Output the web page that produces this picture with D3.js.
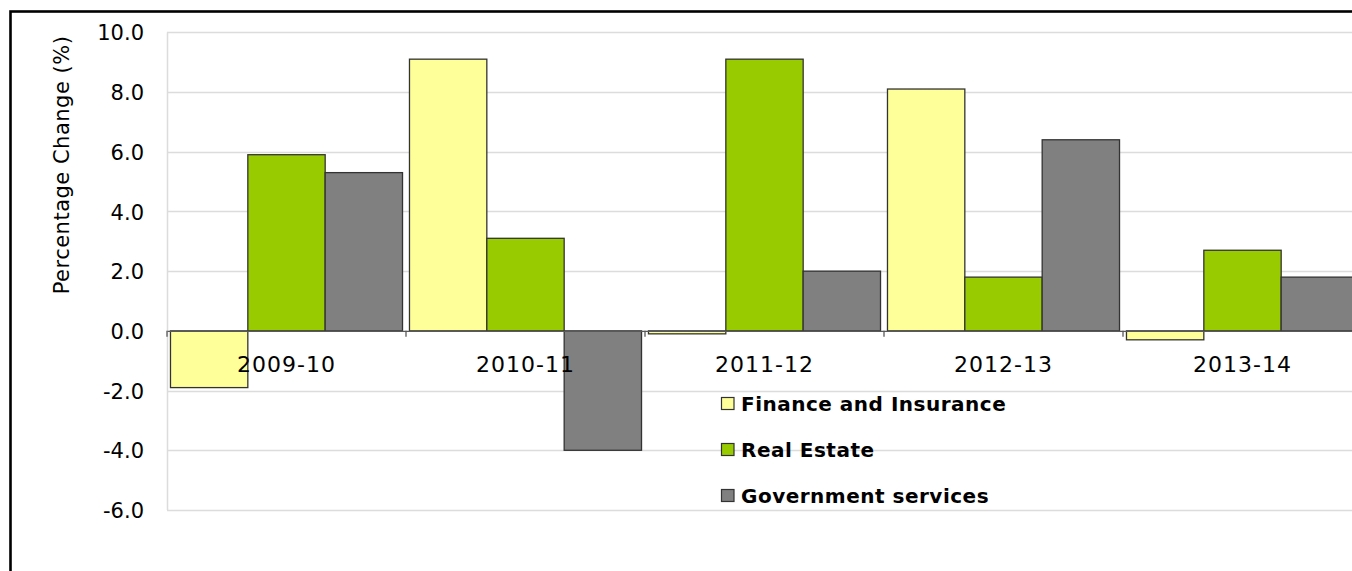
<!DOCTYPE html>
<html>
<head>
<meta charset="utf-8">
<script src="https://cdn.jsdelivr.net/npm/d3@7/dist/d3.min.js"></script>
<style>
  html, body { margin: 0; padding: 0; background: #fff; }
  svg { display: block; }
  .tick-label { font-family: "DejaVu Sans", sans-serif; font-size: 21px; fill: #000; }
  .cat-label { font-family: "DejaVu Sans", sans-serif; font-size: 22px; letter-spacing: 1px; fill: #000; }
  .axis-title { font-family: "DejaVu Sans", sans-serif; font-size: 21px; letter-spacing: 0.5px; fill: #000; }
  .legend-label { font-family: "DejaVu Sans", sans-serif; font-weight: bold; font-size: 20px; letter-spacing: 0.5px; fill: #000; }
</style>
</head>
<body>
<script>
// Annual percentage change by industry
const years = ["2009-10", "2010-11", "2011-12", "2012-13", "2013-14"];
const seriesNames = ["Finance and Insurance", "Real Estate", "Government services"];
const financeInsurance = [-1.9, 9.1, -0.1, 8.1, -0.3];
const realEstate = [5.9, 3.1, 9.1, 1.8, 2.7];
const governmentServices = [5.3, -4.0, 2.0, 6.4, 1.8];
const yTicks = [-6, -4, -2, 0, 2, 4, 6, 8, 10];
const seriesColors = ["#ffff99", "#99cc00", "#808080"];

const seriesValues = [financeInsurance, realEstate, governmentServices];

const W = 1352, H = 571;
const svg = d3.select("body").append("svg").attr("width", W).attr("height", H);

const plotLeft = 167, plotRight = 1362, plotTop = 32.3, plotBottom = 510;

const y = d3.scaleLinear().domain([-6, 10]).range([plotBottom, plotTop]);
const x0 = d3.scaleBand().domain(years).range([plotLeft, plotRight]).padding(0);
const x1 = d3.scaleBand().domain(seriesNames).range([0, x0.bandwidth()])
  .paddingInner(0).paddingOuter(0.045);

// plain hyphen for negative numbers, one decimal place
const fmt = d => d.toFixed(1);

// outer frame (runs off the right and bottom edges)
svg.append("rect")
  .attr("x", 10.5).attr("y", 11.5)
  .attr("width", W + 20).attr("height", H + 20)
  .attr("fill", "none").attr("stroke", "#000").attr("stroke-width", 2.6);

// horizontal gridlines
svg.append("g").selectAll("line").data(yTicks.filter(t => t !== 0)).join("line")
  .attr("x1", plotLeft).attr("x2", plotRight)
  .attr("y1", d => Math.round(y(d)) + 0.5).attr("y2", d => Math.round(y(d)) + 0.5)
  .attr("stroke", "#dcdcdc").attr("stroke-width", 1.5);

// plot area left edge
svg.append("line")
  .attr("x1", plotLeft + 0.5).attr("x2", plotLeft + 0.5)
  .attr("y1", y(10)).attr("y2", y(-6))
  .attr("stroke", "#dcdcdc").attr("stroke-width", 1.5);

// y-axis tick labels
const yAxis = d3.axisLeft(y).tickValues(yTicks).tickFormat(fmt).tickSize(0).tickPadding(0);
const yg = svg.append("g").attr("transform", `translate(${144},0)`).call(yAxis);
yg.select(".domain").remove();
yg.selectAll("text").attr("class", "tick-label").attr("dy", "0.36em");
yg.attr("font-family", null).attr("font-size", null);

// bars
const rows = years.map((yr, i) => ({ year: yr, vals: seriesNames.map((s, j) => ({ s, v: seriesValues[j][i], c: seriesColors[j] })) }));
const groups = svg.append("g").selectAll("g").data(rows).join("g")
  .attr("transform", d => `translate(${x0(d.year)},0)`);
groups.selectAll("rect").data(d => d.vals).join("rect")
  .attr("x", d => x1(d.s))
  .attr("width", x1.bandwidth())
  .attr("y", d => y(Math.max(0, d.v)))
  .attr("height", d => Math.abs(y(d.v) - y(0)))
  .attr("fill", d => d.c)
  .attr("stroke", "#333").attr("stroke-width", 1.3);

// category axis along zero
const xAxis = d3.axisBottom(x0).tickSize(0).tickFormat("");
const xg = svg.append("g").attr("transform", `translate(0,${y(0)})`).call(xAxis);
xg.select(".domain").attr("stroke", "#595959").attr("stroke-width", 1.3);
xg.selectAll(".tick").remove();
// boundary tick marks between categories
xg.selectAll(".bound").data(d3.range(years.length + 1)).join("line")
  .attr("class", "bound")
  .attr("x1", i => plotLeft + i * x0.step()).attr("x2", i => plotLeft + i * x0.step())
  .attr("y1", 0).attr("y2", 6)
  .attr("stroke", "#595959").attr("stroke-width", 1.3);

// category labels drawn below the zero line
svg.append("g").selectAll("text").data(years).join("text")
  .attr("class", "cat-label")
  .attr("x", d => x0(d) + x0.bandwidth() / 2)
  .attr("y", y(0) + 41)
  .attr("text-anchor", "middle")
  .text(d => d);

// y-axis title
svg.append("text")
  .attr("class", "axis-title")
  .attr("transform", `translate(69,${165}) rotate(-90)`)
  .attr("text-anchor", "middle")
  .text("Percentage Change (%)");

// legend
const legend = svg.append("g").attr("transform", "translate(721,397)");
const items = legend.selectAll("g").data(seriesNames).join("g")
  .attr("transform", (d, i) => `translate(0,${i * 46})`);
items.append("rect")
  .attr("x", 0.5).attr("y", 0.5).attr("width", 12.5).attr("height", 12)
  .attr("fill", (d, i) => seriesColors[i])
  .attr("stroke", "#333").attr("stroke-width", 1.2);
items.append("text")
  .attr("class", "legend-label")
  .attr("x", 20).attr("y", 13.5)
  .text(d => d);
</script>
</body>
</html>
